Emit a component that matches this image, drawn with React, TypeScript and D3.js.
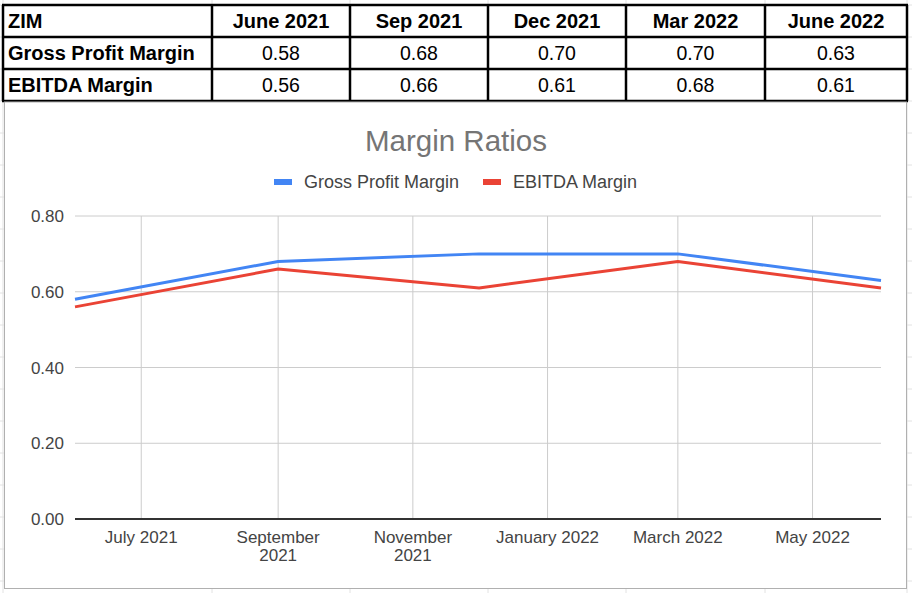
import React, { useEffect, useRef } from 'react';
import * as d3 from 'd3';

// table + chart data
const periods = ['June 2021', 'Sep 2021', 'Dec 2021', 'Mar 2022', 'June 2022'];
const periodDates = ['2021-06-01', '2021-09-01', '2021-12-01', '2022-03-01', '2022-06-01'];
const grossProfitMargin = [0.58, 0.68, 0.70, 0.70, 0.63];
const ebitdaMargin = [0.56, 0.66, 0.61, 0.68, 0.61];
const seriesNames = ['Gross Profit Margin', 'EBITDA Margin'];
const seriesColors = ['#4285f4', '#ea4335'];
const yTicks = [0, 0.2, 0.4, 0.6, 0.8];
const xTickDates = ['2021-07-01', '2021-09-01', '2021-11-01', '2022-01-01', '2022-03-01', '2022-05-01'];
const xTickLabels = [['July 2021'], ['September', '2021'], ['November', '2021'], ['January 2022'], ['March 2022'], ['May 2022']];

const W = 912;
const H = 593;
const FONT = '"Liberation Sans", Arial, sans-serif';

interface Point { date: Date; value: number; }

export default function App() {
  const svgRef = useRef<SVGSVGElement>(null);

  useEffect(() => {
    if (!svgRef.current) return;
    const svg = d3.select(svgRef.current);
    svg.selectAll('*').remove();

    // spreadsheet background grid
    const bg = svg.append('g');
    bg.append('rect').attr('width', W).attr('height', H).attr('fill', '#fff');
    const colLines = [3, 212, 350, 488, 626, 765, 907];
    colLines.forEach(x => {
      bg.append('line').attr('x1', x).attr('x2', x).attr('y1', 0).attr('y2', H)
        .attr('stroke', '#e2e2e2').attr('stroke-width', 1);
    });
    d3.range(5, H, 32).forEach(y => {
      bg.append('line').attr('x1', 0).attr('x2', W).attr('y1', y).attr('y2', y)
        .attr('stroke', '#e2e2e2').attr('stroke-width', 1);
    });

    // table
    const table = svg.append('g').style('font-family', FONT);
    const rowTops = [5, 37, 69, 101];
    const rows = [['ZIM', ...periods],
      [seriesNames[0], ...grossProfitMargin.map(v => v.toFixed(2))],
      [seriesNames[1], ...ebitdaMargin.map(v => v.toFixed(2))]];
    rows.forEach((row, ri) => {
      row.forEach((cell, ci) => {
        const x0 = colLines[ci];
        const x1 = colLines[ci + 1];
        const bold = ri === 0 || ci === 0;
        table.append('text')
          .attr('x', ci === 0 ? x0 + 5 : (x0 + x1) / 2)
          .attr('y', (rowTops[ri] + rowTops[ri + 1]) / 2 + 7)
          .attr('text-anchor', ci === 0 ? 'start' : 'middle')
          .style('font-size', bold ? '20px' : '19.5px')
          .style('font-weight', bold ? 'bold' : 'normal')
          .attr('fill', '#000')
          .text(cell);
      });
    });
    rowTops.forEach(y => {
      table.append('line').attr('x1', 2).attr('x2', 908).attr('y1', y).attr('y2', y)
        .attr('stroke', '#000').attr('stroke-width', 2.5);
    });
    colLines.forEach(x => {
      table.append('line').attr('x1', x).attr('x2', x).attr('y1', 5).attr('y2', 101)
        .attr('stroke', '#000').attr('stroke-width', 2.5);
    });

    // chart box
    const chart = svg.append('g').style('font-family', FONT);
    chart.append('rect').attr('x', 4.5).attr('y', 102).attr('width', 902).attr('height', 486.5)
      .attr('fill', '#fff').attr('stroke', '#b0b0b0').attr('stroke-width', 1);

    chart.append('text')
      .attr('x', 456).attr('y', 151)
      .attr('text-anchor', 'middle')
      .style('font-size', '29.5px')
      .attr('fill', '#757575')
      .text('Margin Ratios');

    // legend
    const legendX = [274, 483];
    seriesNames.forEach((name, i) => {
      chart.append('rect').attr('x', legendX[i]).attr('y', 179).attr('width', 18).attr('height', 6)
        .attr('fill', seriesColors[i]);
      chart.append('text').attr('x', legendX[i] + 30).attr('y', 188)
        .style('font-size', '18px').attr('fill', '#444').text(name);
    });

    const parse = d3.timeParse('%Y-%m-%d');
    const x = d3.scaleTime()
      .domain([parse(periodDates[0])!, parse(periodDates[periodDates.length - 1])!])
      .range([75, 881]);
    const y = d3.scaleLinear().domain([0, 0.8]).range([519, 216]);

    // grid
    yTicks.forEach(t => {
      chart.append('line').attr('x1', 75).attr('x2', 881).attr('y1', y(t)).attr('y2', y(t))
        .attr('stroke', '#cccccc').attr('stroke-width', 1);
      chart.append('text').attr('x', 64).attr('y', y(t) + 6)
        .attr('text-anchor', 'end').style('font-size', '17px').attr('fill', '#444')
        .text(d3.format('.2f')(t));
    });
    xTickDates.forEach((ds, i) => {
      const xx = x(parse(ds)!);
      chart.append('line').attr('x1', xx).attr('x2', xx).attr('y1', 216).attr('y2', 519)
        .attr('stroke', '#cccccc').attr('stroke-width', 1);
      const t = chart.append('text').attr('text-anchor', 'middle')
        .style('font-size', '17px').attr('fill', '#444');
      xTickLabels[i].forEach((ln, li) => {
        t.append('tspan').attr('x', xx).attr('y', 543 + li * 18).text(ln);
      });
    });

    // baseline
    chart.append('line').attr('x1', 75).attr('x2', 881).attr('y1', y(0)).attr('y2', y(0))
      .attr('stroke', '#333').attr('stroke-width', 2);

    // series lines
    const line = d3.line<Point>().x(d => x(d.date)).y(d => y(d.value));
    [grossProfitMargin, ebitdaMargin].forEach((vals, i) => {
      const pts: Point[] = vals.map((v, j) => ({ date: parse(periodDates[j])!, value: v }));
      chart.append('path').datum(pts)
        .attr('fill', 'none')
        .attr('stroke', seriesColors[i])
        .attr('stroke-width', 3)
        .attr('stroke-linejoin', 'round')
        .attr('d', line);
    });
  }, []);

  return (
    <div style={{ position: 'absolute', left: 0, top: 0 }}>
      <svg ref={svgRef} width={W} height={H} style={{ display: 'block' }} />
    </div>
  );
}
